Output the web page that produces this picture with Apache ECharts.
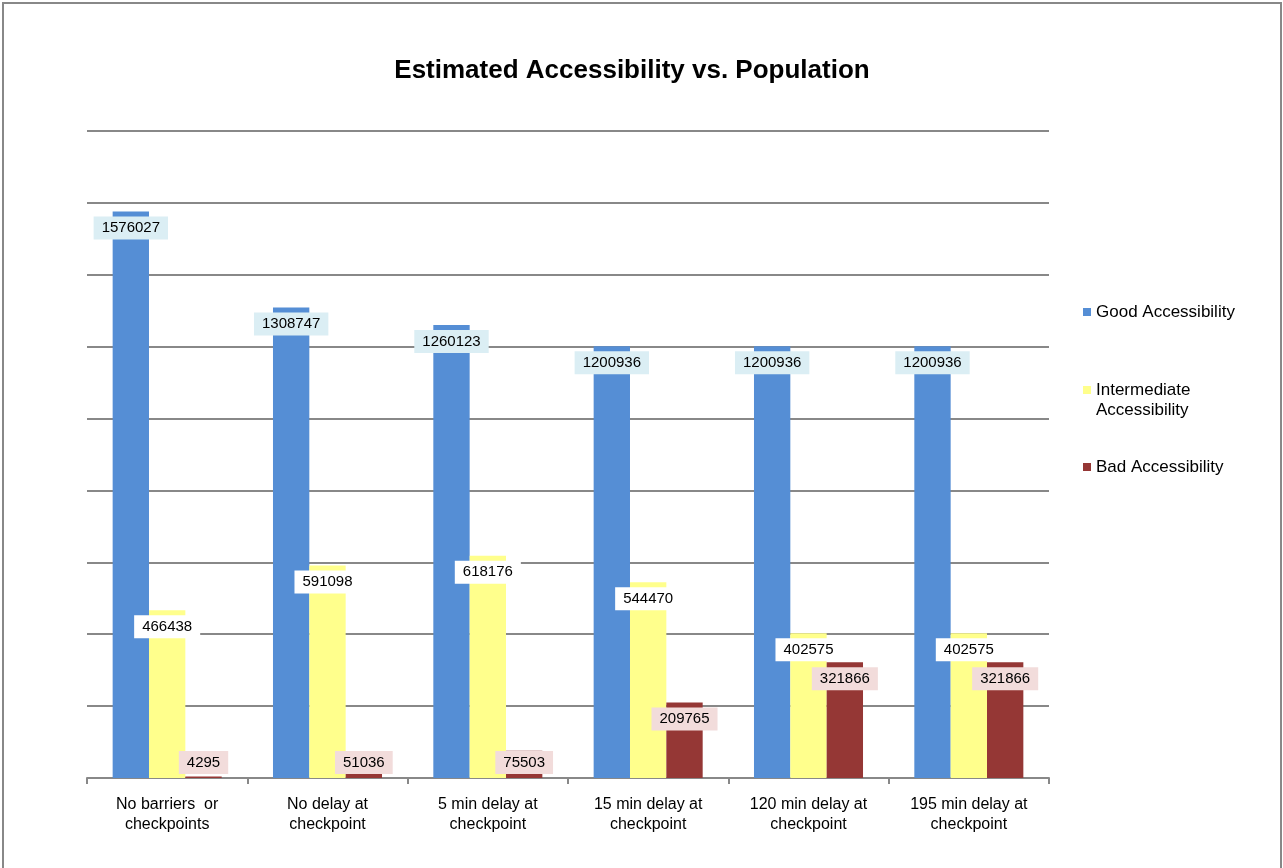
<!DOCTYPE html>
<html>
<head>
<meta charset="utf-8">
<script src="https://cdn.jsdelivr.net/npm/echarts@6/dist/echarts.min.js"></script>
<style>
html,body{margin:0;padding:0;background:#fff;}
#chart{width:1283px;height:868px;}
</style>
</head>
<body>
<div id="chart"></div>
<script>
const categories = ["No barriers  or\ncheckpoints", "No delay at\ncheckpoint", "5 min delay at\ncheckpoint", "15 min delay at\ncheckpoint", "120 min delay at\ncheckpoint", "195 min delay at\ncheckpoint"];
const goodValues = [1576027, 1308747, 1260123, 1200936, 1200936, 1200936];
const intermediateValues = [466438, 591098, 618176, 544470, 402575, 402575];
const badValues = [4295, 51036, 75503, 209765, 321866, 321866];
const seriesNames = ["Good Accessibility", "Intermediate\nAccessibility", "Bad Accessibility"];

const FONT = "Liberation Sans, Arial, sans-serif";

function makeData(values) {
  return values.map(v => {
    if (v < 90000) {
      return { value: v, label: { position: 'insideBottom', distance: 4 } };
    }
    return v;
  });
}

function makeSeries(name, values, color, labelBg) {
  return {
    name: name,
    type: 'bar',
    data: makeData(values),
    barGap: '0%',
    barCategoryGap: '32%',
    itemStyle: { color: color },
    label: {
      show: true,
      position: 'insideTop',
      distance: 5,
      color: '#000',
      fontFamily: FONT,
      fontSize: 15,
      backgroundColor: labelBg,
      padding: [4, 8, 4, 8]
    }
  };
}

const chart = echarts.init(document.getElementById('chart'), null, { renderer: 'canvas' });

function legendFor(name, top, topAligned) {
  const lg = {
    orient: 'vertical',
    left: 1083,
    top: top,
    padding: 0,
    data: [name],
    icon: 'rect',
    itemWidth: 8,
    itemHeight: 8,
    itemGap: 5,
    textStyle: { fontFamily: FONT, fontSize: 17, color: '#000', lineHeight: 20 },
    selectedMode: false
  };
  if (topAligned) {
    // an empty leading line keeps the marker level with the first text line
    lg.formatter = n => '\n' + n;
  }
  return lg;
}

chart.setOption({
  animation: false,
  backgroundColor: '#fff',
  title: {
    text: 'Estimated Accessibility vs. Population',
    left: 627,
    top: 53,
    textAlign: 'center',
    textStyle: { fontFamily: FONT, fontSize: 26, fontWeight: 'bold', color: '#000' }
  },
  legend: [
    legendFor(seriesNames[0], 302, false),
    legendFor(seriesNames[1], 360, true),
    legendFor(seriesNames[2], 457, false)
  ],
  grid: { left: 87, right: 234, top: 131, bottom: 90, containLabel: false },
  xAxis: {
    type: 'category',
    data: categories,
    axisLine: { show: true, lineStyle: { color: '#888', width: 2 } },
    axisTick: { show: true, length: 6, lineStyle: { color: '#888', width: 2 } },
    axisLabel: { fontFamily: FONT, fontSize: 16, color: '#000', margin: 17, lineHeight: 20, interval: 0 }
  },
  yAxis: {
    type: 'value',
    min: 0,
    max: 1800000,
    interval: 200000,
    axisLabel: { show: false },
    axisLine: { show: false },
    axisTick: { show: false },
    splitLine: { show: true, lineStyle: { color: '#888', width: 2 } }
  },
  graphic: [{
    type: 'rect',
    shape: { x: 3, y: 3, width: 1278, height: 900 },
    style: { fill: 'none', stroke: '#888', lineWidth: 2 },
    silent: true
  }],
  series: [
    makeSeries(seriesNames[0], goodValues, '#558ED5', '#DBEEF4'),
    makeSeries(seriesNames[1], intermediateValues, '#FFFF8C', '#FFFFFF'),
    makeSeries(seriesNames[2], badValues, '#953735', '#F2DCDB')
  ]
});
</script>
</body>
</html>
